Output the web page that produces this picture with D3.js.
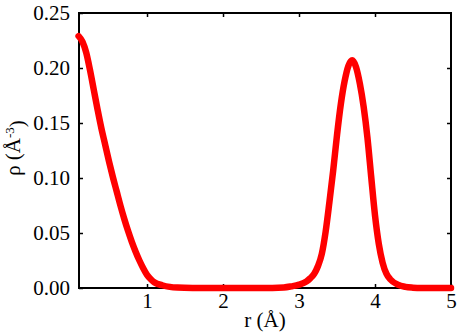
<!DOCTYPE html>
<html>
<head>
<meta charset="utf-8">
<script src="https://cdn.jsdelivr.net/npm/d3@7"></script>
<style>
  body { margin: 0; background: #fff; }
  svg text { font-family: "Liberation Serif", "Times New Roman", serif !important; }
</style>
</head>
<body>
<div class="svgContainer"></div>
<script>
var w = 462;
var h = 332;
var margin = {top: 13, right: 11, bottom: 44, left: 79};

// r in angstrom, rho in A^-3
var rValues = [0.10, 0.15, 0.20, 0.25, 0.30, 0.35, 0.40, 0.45, 0.50, 0.55,
               0.60, 0.65, 0.70, 0.75, 0.80, 0.85, 0.90, 0.95, 1.00, 1.05,
               1.10, 1.20, 1.30, 1.40, 1.60, 2.00, 2.50, 2.80, 2.90, 3.00,
               3.10, 3.15, 3.20, 3.25, 3.30, 3.35, 3.40, 3.45, 3.50, 3.55,
               3.60, 3.65, 3.70, 3.75, 3.80, 3.85, 3.90, 3.95, 4.00, 4.05,
               4.10, 4.15, 4.20, 4.30, 4.40, 4.50, 4.60, 5.00];
var rhoValues = [0.229, 0.224, 0.214, 0.198, 0.180, 0.162, 0.145, 0.130, 0.115, 0.101,
                 0.088, 0.075, 0.063, 0.052, 0.042, 0.033, 0.025, 0.018, 0.012, 0.008,
                 0.005, 0.0025, 0.001, 0.0004, 0.0001, 0.0, 0.0, 0.0005, 0.0015, 0.003,
                 0.006, 0.009, 0.013, 0.020, 0.031, 0.051, 0.078, 0.107, 0.139, 0.167,
                 0.188, 0.202, 0.207, 0.201, 0.186, 0.165, 0.137, 0.101, 0.066, 0.040,
                 0.023, 0.013, 0.008, 0.003, 0.001, 0.0003, 0.0, 0.0];

var xTicks = [1, 2, 3, 4, 5];
var yTicks = [0, 0.05, 0.10, 0.15, 0.20, 0.25];

var dataset = rValues.map(function (r, i) { return [r, rhoValues[i]]; });

var svg = d3.select(".svgContainer")
            .append("svg")
            .attr("width", w)
            .attr("height", h);

var xScale = d3.scaleLinear()
               .domain([0.105, 5])
               .range([margin.left, w - margin.right]);

var yScale = d3.scaleLinear()
               .domain([0, 0.25])
               .range([h - margin.bottom, margin.top]);

// bottom axis with inward ticks
var xAxis = d3.axisBottom(xScale)
              .tickValues(xTicks)
              .tickFormat(d3.format("d"))
              .tickSizeInner(-4)
              .tickSizeOuter(0)
              .tickPadding(5);

svg.append("g")
   .attr("transform", "translate(0," + (h - margin.bottom) + ")")
   .call(xAxis)
   .attr("font-size", 21)
   .call(g => g.select(".domain").remove())
   .call(g => g.selectAll("line").attr("stroke-width", 1.5));

// top mirrored ticks
svg.append("g")
   .attr("transform", "translate(0," + margin.top + ")")
   .call(d3.axisTop(xScale).tickValues(xTicks.slice(0, 4)).tickSizeInner(-4).tickSizeOuter(0).tickFormat(""))
   .call(g => g.select(".domain").remove())
   .call(g => g.selectAll("line").attr("stroke-width", 1.5));

var yAxis = d3.axisLeft(yScale)
              .tickValues(yTicks)
              .tickFormat(d3.format(".2f"))
              .tickSizeInner(-4)
              .tickSizeOuter(0)
              .tickPadding(9);

svg.append("g")
   .attr("transform", "translate(" + margin.left + ",0)")
   .call(yAxis)
   .attr("font-size", 21)
   .call(g => g.select(".domain").remove())
   .call(g => g.selectAll("line").attr("stroke-width", 1.5));

svg.append("g")
   .attr("transform", "translate(" + (w - margin.right) + ",0)")
   .call(d3.axisRight(yScale).tickValues(yTicks.slice(1, 5)).tickSizeInner(-4).tickSizeOuter(0).tickFormat(""))
   .call(g => g.select(".domain").remove())
   .call(g => g.selectAll("line").attr("stroke-width", 1.5));

// frame
svg.append("rect")
   .attr("x", margin.left)
   .attr("y", margin.top)
   .attr("width", w - margin.left - margin.right)
   .attr("height", h - margin.top - margin.bottom)
   .attr("fill", "none")
   .attr("stroke", "#000")
   .attr("stroke-width", 2);

// the curve
var line = d3.line()
             .x(d => xScale(d[0]))
             .y(d => yScale(d[1]))
             .curve(d3.curveMonotoneX);

svg.append("path")
   .datum(dataset)
   .attr("d", line)
   .attr("fill", "none")
   .attr("stroke", "#ff0000")
   .attr("stroke-width", 6.5)
   .attr("stroke-linecap", "round")
   .attr("stroke-linejoin", "round");

// axis titles
svg.append("text")
   .attr("x", (margin.left + w - margin.right) / 2)
   .attr("y", 327)
   .attr("text-anchor", "middle")
   .attr("font-size", 21)
   .text("r (Å)");

var yLabel = svg.append("text")
   .attr("transform", "translate(20," + 148 + ") rotate(-90)")
   .attr("text-anchor", "middle")
   .attr("font-size", 21);
yLabel.append("tspan").text("ρ (Å");
yLabel.append("tspan").attr("dy", "-0.45em").attr("font-size", 13).text("-3");
yLabel.append("tspan").attr("dy", "0.45em").text(")");
</script>
</body>
</html>
